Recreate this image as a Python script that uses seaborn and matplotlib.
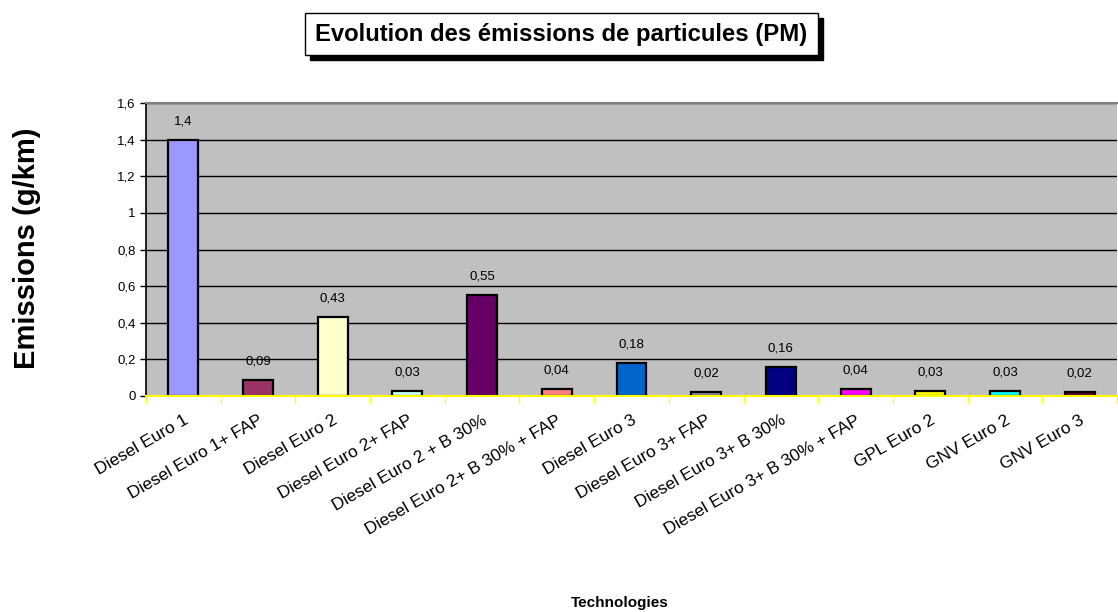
import matplotlib
matplotlib.use("Agg")
import matplotlib.pyplot as plt
import matplotlib.patches as mpatches
import seaborn as sns
import pandas as pd
import numpy as np

# Emission data
technologies = [
    "Diesel Euro 1", "Diesel Euro 1+ FAP", "Diesel Euro 2", "Diesel Euro 2+ FAP",
    "Diesel Euro 2 + B 30%", "Diesel Euro 2+ B 30% + FAP", "Diesel Euro 3",
    "Diesel Euro 3+ FAP", "Diesel Euro 3+ B 30%", "Diesel Euro 3+ B 30% + FAP",
    "GPL Euro 2", "GNV Euro 2", "GNV Euro 3",
]
pm_emissions = [1.4, 0.09, 0.43, 0.03, 0.55, 0.04, 0.18, 0.02, 0.16, 0.04, 0.03, 0.03, 0.02]
value_labels = ["1,4", "0,09", "0,43", "0,03", "0,55", "0,04", "0,18", "0,02", "0,16",
                "0,04", "0,03", "0,03", "0,02"]
bar_colors = ["#9999FF", "#993366", "#FFFFCC", "#CCFFFF", "#660066", "#FF8080", "#0066CC",
              "#8888A8", "#000080", "#FF00FF", "#FFFF00", "#00FFFF", "#660040"]
y_ticks = [0, 0.2, 0.4, 0.6, 0.8, 1.0, 1.2, 1.4, 1.6]
y_tick_labels = ["0", "0,2", "0,4", "0,6", "0,8", "1", "1,2", "1,4", "1,6"]

df = pd.DataFrame({"tech": technologies, "pm": pm_emissions})

plt.rcParams["font.family"] = ["Liberation Sans", "DejaVu Sans"]

W, H = 1118, 612
fig = plt.figure(figsize=(W / 100, H / 100), dpi=100)
ax_w, ax_h = (W - 147) / W, (396 - 103) / H
ax = fig.add_axes([146 / W, 1 - 396 / H, ax_w, ax_h])

sns.barplot(data=df, x="tech", y="pm", hue="tech", palette=bar_colors, legend=False,
            saturation=1, width=0.4, edgecolor="black", linewidth=1.6, ax=ax, zorder=3)

ax.set_facecolor("#C0C0C0")
ax.set_ylim(0, 1.6)
ax.set_xlim(-0.5, len(technologies) - 0.5)
ax.set_yticks(y_ticks)
ax.set_yticklabels(y_tick_labels, fontsize=9.5)
ax.yaxis.grid(True, color="black", linewidth=1.0, zorder=1)
ax.set_axisbelow(True)

# category labels at centres, yellow ticks on category boundaries
ax.set_xticks(np.arange(len(technologies)))
ax.set_xticklabels(technologies, rotation=30, ha="right", rotation_mode="anchor", fontsize=12.5)
ax.tick_params(axis="x", which="major", length=0, pad=12)
ax.set_xticks(np.arange(len(technologies) + 1) - 0.5, minor=True)
ax.tick_params(axis="x", which="minor", length=5, color="#FFFF00", width=1)
ax.tick_params(axis="y", length=4, color="black", width=1)

ax.spines["top"].set_color("#808080")
ax.spines["top"].set_linewidth(1.5)
ax.spines["right"].set_visible(False)
ax.spines["left"].set_color("black")
ax.spines["left"].set_linewidth(1.2)
ax.spines["bottom"].set_color("#FFFF00")
ax.spines["bottom"].set_linewidth(1.5)
ax.spines["bottom"].set_zorder(4)

for i, (v, lab) in enumerate(zip(pm_emissions, value_labels)):
    ax.annotate(lab, (i, v), xytext=(0, 9), textcoords="offset points",
                ha="center", va="bottom", fontsize=9.5)

ax.set_xlabel("Technologies", fontsize=11, fontweight="bold")
ax.xaxis.set_label_coords((620 - 146) / (W * ax_w), -(596 - 396) / (H * ax_h))
ax.set_ylabel("Emissions (g/km)", fontsize=21, fontweight="bold")
ax.yaxis.set_label_coords(-(146 - 41) / (W * ax_w), (396 - 248) / (H * ax_h))

# framed title with drop shadow
bx0, by0, bx1, by1 = 305, 13, 818, 55
sh = 5
fig.patches.append(mpatches.Rectangle((bx0 / W + sh / W, 1 - (by1 + sh) / H),
                                      (bx1 - bx0) / W, (by1 - by0) / H,
                                      transform=fig.transFigure, facecolor="black",
                                      edgecolor="black", zorder=1))
fig.patches.append(mpatches.Rectangle((bx0 / W, 1 - by1 / H), (bx1 - bx0) / W, (by1 - by0) / H,
                                      transform=fig.transFigure, facecolor="white",
                                      edgecolor="black", linewidth=1, zorder=2))
fig.text((bx0 + bx1) / 2 / W, 1 - (by0 + by1) / 2 / H,
         "Evolution des émissions de particules (PM)", ha="center", va="center",
         fontsize=17.2, fontweight="bold", zorder=3)

fig.savefig("out.png", dpi=100)
